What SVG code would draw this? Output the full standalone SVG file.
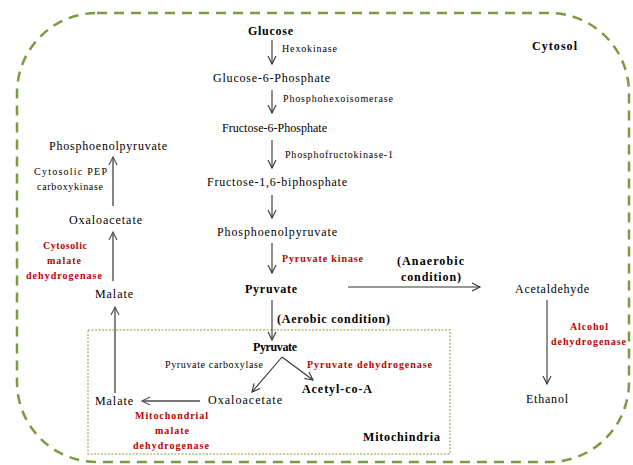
<svg xmlns="http://www.w3.org/2000/svg" width="633" height="465" viewBox="0 0 633 465" font-family="Liberation Serif, Times New Roman, serif">
<style>
text{fill:#000}
.m{font-size:12px}
.e{font-size:10px}
.b{font-size:12px;font-weight:bold}
.r{font-size:10px;font-weight:bold;fill:#c00000}
.a{fill:none;stroke:#333;stroke-width:1.1;marker-end:url(#h)}
.g{fill:none;stroke:#777;stroke-width:1.8;marker-end:url(#hg)}
</style>
<defs>
<marker id="h" markerUnits="userSpaceOnUse" markerWidth="12" markerHeight="12" refX="9" refY="5" orient="auto">
<path d="M1,1 L9,5 L1,9" fill="none" stroke="#333" stroke-width="1.1"/>
</marker>
<marker id="hg" markerUnits="userSpaceOnUse" markerWidth="12" markerHeight="12" refX="9" refY="5" orient="auto">
<path d="M1,1 L9,5 L1,9" fill="none" stroke="#555" stroke-width="1.2"/>
</marker>
</defs>
<rect id="cytosol-box" x="17" y="13" width="612" height="449" rx="80" ry="80" fill="none" stroke="#7c9a40" stroke-width="2.5" stroke-dasharray="10 7"/>
<rect id="mito-box" x="88" y="330" width="362" height="124" fill="none" stroke="#a9c27e" stroke-width="1.5" stroke-dasharray="2 1.5"/>
<g id="connectors">
<line class="a" x1="272" y1="40" x2="272" y2="64"/>
<line class="a" x1="272" y1="90" x2="272" y2="113"/>
<line class="a" x1="272" y1="140" x2="272" y2="168"/>
<line class="a" x1="272" y1="195" x2="272" y2="218"/>
<line class="a" x1="272" y1="243" x2="272" y2="273"/>
<line class="a" x1="272" y1="300" x2="272" y2="340"/>
<line class="a" x1="348" y1="287" x2="480" y2="287"/>
<line class="a" x1="547" y1="300" x2="547" y2="384"/>
<line class="a" x1="282" y1="357" x2="252" y2="392"/>
<line class="a" x1="282" y1="357" x2="313" y2="380"/>
<line class="g" x1="200" y1="401" x2="142" y2="401"/>
<line class="g" x1="115" y1="393" x2="115" y2="307"/>
<line class="g" x1="113" y1="281" x2="113" y2="232"/>
<line class="g" x1="113" y1="206" x2="113" y2="157"/>
</g>
<g id="glucose"><text class="b" x="248" y="35" textLength="45">Glucose</text></g>
<g id="hexokinase"><text class="e" x="282" y="52" textLength="55">Hexokinase</text></g>
<g id="g6p"><text class="m" x="213" y="82" textLength="117">Glucose-6-Phosphate</text></g>
<g id="phi"><text class="e" x="283" y="102" textLength="110">Phosphohexoisomerase</text></g>
<g id="f6p"><text class="m" x="222" y="132" textLength="105">Fructose-6-Phosphate</text></g>
<g id="pfk"><text class="e" x="285" y="158" textLength="108">Phosphofructokinase-1</text></g>
<g id="f16bp"><text class="m" x="207" y="186" textLength="140">Fructose-1,6-biphosphate</text></g>
<g id="pep"><text class="m" x="217" y="236" textLength="120">Phosphoenolpyruvate</text></g>
<g id="pk"><text class="r" x="282" y="262" textLength="81">Pyruvate kinase</text></g>
<g id="pyruvate"><text class="b" x="245" y="293" textLength="52">Pyruvate</text></g>
<g id="aerobic"><text class="b" x="277" y="323" textLength="113">(Aerobic condition)</text></g>
<g id="anaerobic"><text class="b" x="397" y="265" textLength="67">(Anaerobic</text><text class="b" x="401" y="281" textLength="60">condition)</text></g>
<g id="acetaldehyde"><text class="m" x="515" y="293" textLength="74">Acetaldehyde</text></g>
<g id="adh"><text class="r" x="570" y="330" textLength="38">Alcohol</text><text class="r" x="551" y="345" textLength="75">dehydrogenase</text></g>
<g id="ethanol"><text class="m" x="526" y="403" textLength="42">Ethanol</text></g>
<g id="cytosol"><text class="b" x="532" y="50" textLength="45">Cytosol</text></g>
<g id="mitochindria"><text class="b" x="363" y="441" textLength="77">Mitochindria</text></g>
<g id="mito-pyruvate"><text class="b" x="253" y="351" textLength="44">Pyruvate</text></g>
<g id="pc"><text class="e" x="165" y="368" textLength="98">Pyruvate carboxylase</text></g>
<g id="pdh"><text class="r" x="307" y="368" textLength="125">Pyruvate dehydrogenase</text></g>
<g id="acetylcoa"><text class="b" x="302" y="393" textLength="70">Acetyl-co-A</text></g>
<g id="mito-oaa"><text class="m" x="208" y="404" textLength="74">Oxaloacetate</text></g>
<g id="mito-malate"><text class="m" x="95" y="405" textLength="38">Malate</text></g>
<g id="mmdh"><text class="r" x="135" y="419" textLength="73">Mitochondrial</text><text class="r" x="155" y="434" textLength="34">malate</text><text class="r" x="133" y="449" textLength="76">dehydrogenase</text></g>
<g id="cyt-malate"><text class="m" x="95" y="298" textLength="38">Malate</text></g>
<g id="cmdh"><text class="r" x="43" y="249" textLength="44">Cytosolic</text><text class="r" x="47" y="264" textLength="34">malate</text><text class="r" x="26" y="279" textLength="76">dehydrogenase</text></g>
<g id="cyt-oaa"><text class="m" x="69" y="224" textLength="73">Oxaloacetate</text></g>
<g id="pepck"><text class="e" x="34" y="175" textLength="73">Cytosolic  PEP</text><text class="e" x="37" y="190" textLength="66">carboxykinase</text></g>
<g id="cyt-pep"><text class="m" x="49" y="150" textLength="118">Phosphoenolpyruvate</text></g>
</svg>
